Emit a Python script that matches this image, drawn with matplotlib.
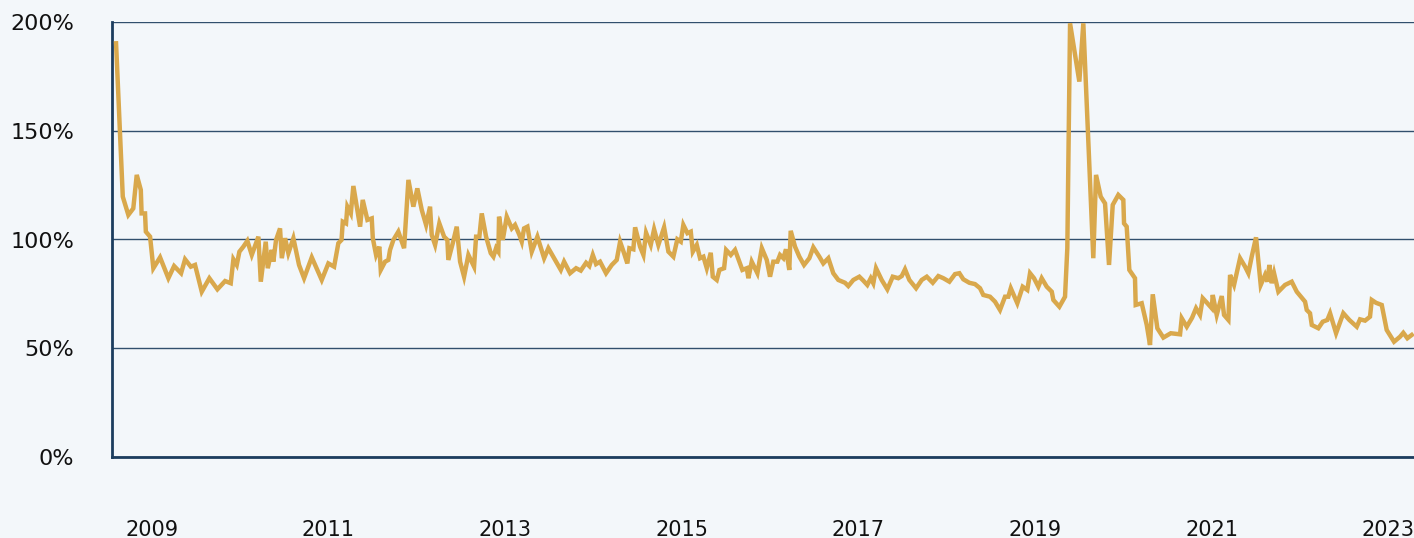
import matplotlib
matplotlib.use("Agg")
import matplotlib.pyplot as plt
import numpy as np

years = [
    2008.598, 2008.674, 2008.737, 2008.793, 2008.832, 2008.878, 2008.887, 2008.926, 2008.935, 2008.983,
    2009.020, 2009.096, 2009.190, 2009.255, 2009.334, 2009.379, 2009.444, 2009.492, 2009.568, 2009.654,
    2009.745, 2009.832, 2009.896, 2009.926, 2009.964, 2009.994, 2010.039, 2010.084, 2010.134, 2010.209,
    2010.236, 2010.292, 2010.315, 2010.360, 2010.378, 2010.409, 2010.454, 2010.474, 2010.511, 2010.548,
    2010.605, 2010.669, 2010.726, 2010.813, 2010.926, 2011.001, 2011.066, 2011.114, 2011.150, 2011.164,
    2011.201, 2011.216, 2011.255, 2011.284, 2011.329, 2011.360, 2011.390, 2011.443, 2011.492, 2011.504,
    2011.541, 2011.578, 2011.594, 2011.643, 2011.680, 2011.699, 2011.737, 2011.793, 2011.858, 2011.877,
    2011.907, 2011.963, 2012.008, 2012.058, 2012.107, 2012.152, 2012.171, 2012.209, 2012.257, 2012.311,
    2012.348, 2012.359, 2012.409, 2012.454, 2012.492, 2012.537, 2012.586, 2012.650, 2012.673, 2012.710,
    2012.737, 2012.786, 2012.839, 2012.869, 2012.899, 2012.925, 2012.933, 2012.975, 2013.020, 2013.077,
    2013.114, 2013.163, 2013.190, 2013.216, 2013.254, 2013.303, 2013.367, 2013.443, 2013.491, 2013.567,
    2013.632, 2013.669, 2013.737, 2013.805, 2013.858, 2013.918, 2013.955, 2013.994, 2014.031, 2014.076,
    2014.144, 2014.209, 2014.265, 2014.303, 2014.348, 2014.385, 2014.408, 2014.453, 2014.473, 2014.529,
    2014.567, 2014.597, 2014.650, 2014.688, 2014.736, 2014.801, 2014.850, 2014.906, 2014.951, 2014.990,
    2015.019, 2015.065, 2015.103, 2015.126, 2015.171, 2015.208, 2015.246, 2015.284, 2015.329, 2015.352,
    2015.397, 2015.427, 2015.480, 2015.503, 2015.556, 2015.604, 2015.687, 2015.737, 2015.755, 2015.793,
    2015.857, 2015.907, 2015.963, 2016.000, 2016.037, 2016.083, 2016.113, 2016.151, 2016.181, 2016.218,
    2016.234, 2016.283, 2016.332, 2016.385, 2016.445, 2016.490, 2016.558, 2016.603, 2016.660, 2016.716,
    2016.773, 2016.849, 2016.886, 2016.943, 2017.011, 2017.056, 2017.101, 2017.140, 2017.169, 2017.200,
    2017.264, 2017.328, 2017.389, 2017.452, 2017.491, 2017.528, 2017.577, 2017.653, 2017.717, 2017.774,
    2017.842, 2017.905, 2017.962, 2018.030, 2018.094, 2018.143, 2018.188, 2018.256, 2018.320, 2018.377,
    2018.414, 2018.490, 2018.547, 2018.603, 2018.660, 2018.697, 2018.725, 2018.799, 2018.860, 2018.912,
    2018.943, 2018.988, 2019.037, 2019.075, 2019.132, 2019.189, 2019.207, 2019.275, 2019.339, 2019.365,
    2019.396, 2019.501, 2019.546, 2019.659, 2019.690, 2019.743, 2019.792, 2019.837, 2019.879, 2019.942,
    2019.999, 2020.007, 2020.037, 2020.067, 2020.131, 2020.139, 2020.207, 2020.264, 2020.301, 2020.332,
    2020.384, 2020.452, 2020.536, 2020.641, 2020.660, 2020.717, 2020.777, 2020.822, 2020.867, 2020.898,
    2020.950, 2021.000, 2021.011, 2021.056, 2021.113, 2021.139, 2021.188, 2021.207, 2021.252, 2021.320,
    2021.377, 2021.414, 2021.452, 2021.501, 2021.554, 2021.603, 2021.629, 2021.652, 2021.679, 2021.705,
    2021.754, 2021.829, 2021.905, 2021.962, 2022.056, 2022.075, 2022.112, 2022.132, 2022.206, 2022.256,
    2022.308, 2022.339, 2022.407, 2022.489, 2022.557, 2022.641, 2022.678, 2022.735, 2022.791, 2022.811,
    2022.859, 2022.924, 2022.980, 2023.063, 2023.131, 2023.168, 2023.214, 2023.263,
]

ratio = [
    190.2, 119.7, 111.3, 114.3, 129.7, 122.8, 112.0, 112.0, 103.6, 101.3,
    86.8, 91.8, 82.2, 87.8, 84.5, 90.9, 87.5, 88.3, 76.0, 82.2,
    77.1, 80.9, 79.9, 90.9, 88.3, 94.4, 96.7, 99.4, 92.9, 101.3,
    80.6, 99.0, 86.8, 95.2, 89.8, 99.8, 105.1, 91.4, 100.6, 93.7,
    100.6, 88.3, 82.2, 91.8, 81.4, 89.0, 87.5, 98.3, 99.8, 108.2,
    107.4, 115.1, 112.0, 124.6, 113.6, 105.9, 118.2, 109.0, 109.7, 100.6,
    92.9, 96.7, 86.0, 89.8, 90.6, 95.2, 99.8, 103.6, 96.0, 108.2,
    127.4, 115.1, 123.5, 113.6, 106.7, 115.1, 102.1, 97.5, 107.4, 101.3,
    99.8, 90.6, 98.3, 105.9, 89.8, 82.9, 92.9, 87.5, 101.3, 101.3,
    112.0, 101.3, 93.7, 92.1, 96.0, 94.4, 110.5, 99.8, 110.5, 105.1,
    106.7, 102.1, 99.0, 105.1, 105.9, 94.4, 101.3, 91.4, 96.0, 90.6,
    86.0, 89.8, 84.5, 86.8, 85.7, 89.3, 87.8, 92.9, 88.7, 89.8,
    84.5, 88.3, 90.6, 99.0, 93.7, 89.0, 96.0, 95.5, 105.6, 96.7,
    92.9, 103.1, 97.5, 104.7, 97.5, 105.6, 94.4, 92.1, 100.1, 99.0,
    106.7, 102.9, 103.6, 94.4, 97.5, 91.4, 92.1, 86.8, 93.9, 82.9,
    81.4, 86.0, 86.8, 95.2, 92.9, 95.2, 86.0, 86.8, 82.2, 89.8,
    84.5, 96.0, 90.6, 82.9, 89.8, 89.8, 92.9, 91.4, 95.5, 86.0,
    104.0, 96.7, 92.1, 88.3, 91.4, 96.4, 92.1, 89.0, 91.4, 84.5,
    81.4, 80.1, 78.6, 81.4, 82.9, 81.1, 79.1, 82.2, 79.9, 86.8,
    81.4, 77.1, 82.9, 82.2, 83.2, 86.3, 81.4, 77.6, 81.4, 82.9,
    80.1, 83.2, 82.2, 80.6, 84.1, 84.5, 81.7, 80.1, 79.5, 77.6,
    74.5, 73.7, 71.4, 67.6, 73.7, 73.7, 77.6, 70.7, 78.3, 76.8,
    84.5, 82.2, 78.3, 82.2, 78.3, 76.0, 72.2, 69.1, 73.7, 96.0,
    199.4, 172.6, 199.4, 91.4, 129.7, 119.7, 116.6, 88.3, 115.9, 120.5,
    118.2, 107.4, 105.9, 86.0, 82.2, 69.9, 70.7, 60.7, 51.5, 74.8,
    59.2, 54.9, 56.9, 56.4, 63.8, 59.9, 64.0, 68.4, 65.3, 73.0,
    70.7, 68.4, 74.5, 65.3, 74.0, 65.3, 63.0, 83.7, 79.1, 91.4,
    87.5, 84.5, 92.1, 101.0, 79.1, 83.7, 80.6, 88.3, 79.9, 84.5,
    76.0, 79.1, 80.6, 76.0, 71.4, 67.6, 66.1, 60.7, 59.2, 62.2,
    63.0, 66.1, 56.9, 66.1, 63.0, 59.9, 63.3, 62.7, 64.5, 72.2,
    70.9, 69.9, 58.4, 53.0, 55.3, 57.1, 54.6, 56.1,
]

tick_years = [2009, 2011, 2013, 2015, 2017, 2019, 2021, 2023]
y_ticks = [0, 50, 100, 150, 200]

bg = "#f3f7fa"
navy = "#1c3d5e"
gold = "#d9a84c"

fig = plt.figure(figsize=(14.14, 5.38), dpi=100, facecolor=bg)
ax = fig.add_axes([112 / 1414, 1 - 457 / 538, 1302 / 1414, 435 / 538])
ax.set_facecolor(bg)

ax.plot(years, ratio, color=gold, lw=3.2, solid_joinstyle="miter", zorder=3)

ax.set_xlim(2008.552, 2023.289)
ax.set_ylim(0, 200)
ax.set_xticks(tick_years)
ax.set_xticklabels([str(y) for y in tick_years])
ax.set_yticks(y_ticks)
ax.set_yticklabels([f"{v}%" for v in y_ticks])

ax.yaxis.grid(True, color=navy, lw=1.0, alpha=0.9)
ax.set_axisbelow(True)
ax.tick_params(axis="both", length=0, labelcolor="#111111")
ax.tick_params(axis="x", pad=45, labelsize=15)
ax.tick_params(axis="y", pad=27, labelsize=16)

for s in ["top", "right"]:
    ax.spines[s].set_visible(False)
for s in ["left", "bottom"]:
    ax.spines[s].set_color(navy)
    ax.spines[s].set_linewidth(2)

fig.savefig("out.png", dpi=100, facecolor=bg)
